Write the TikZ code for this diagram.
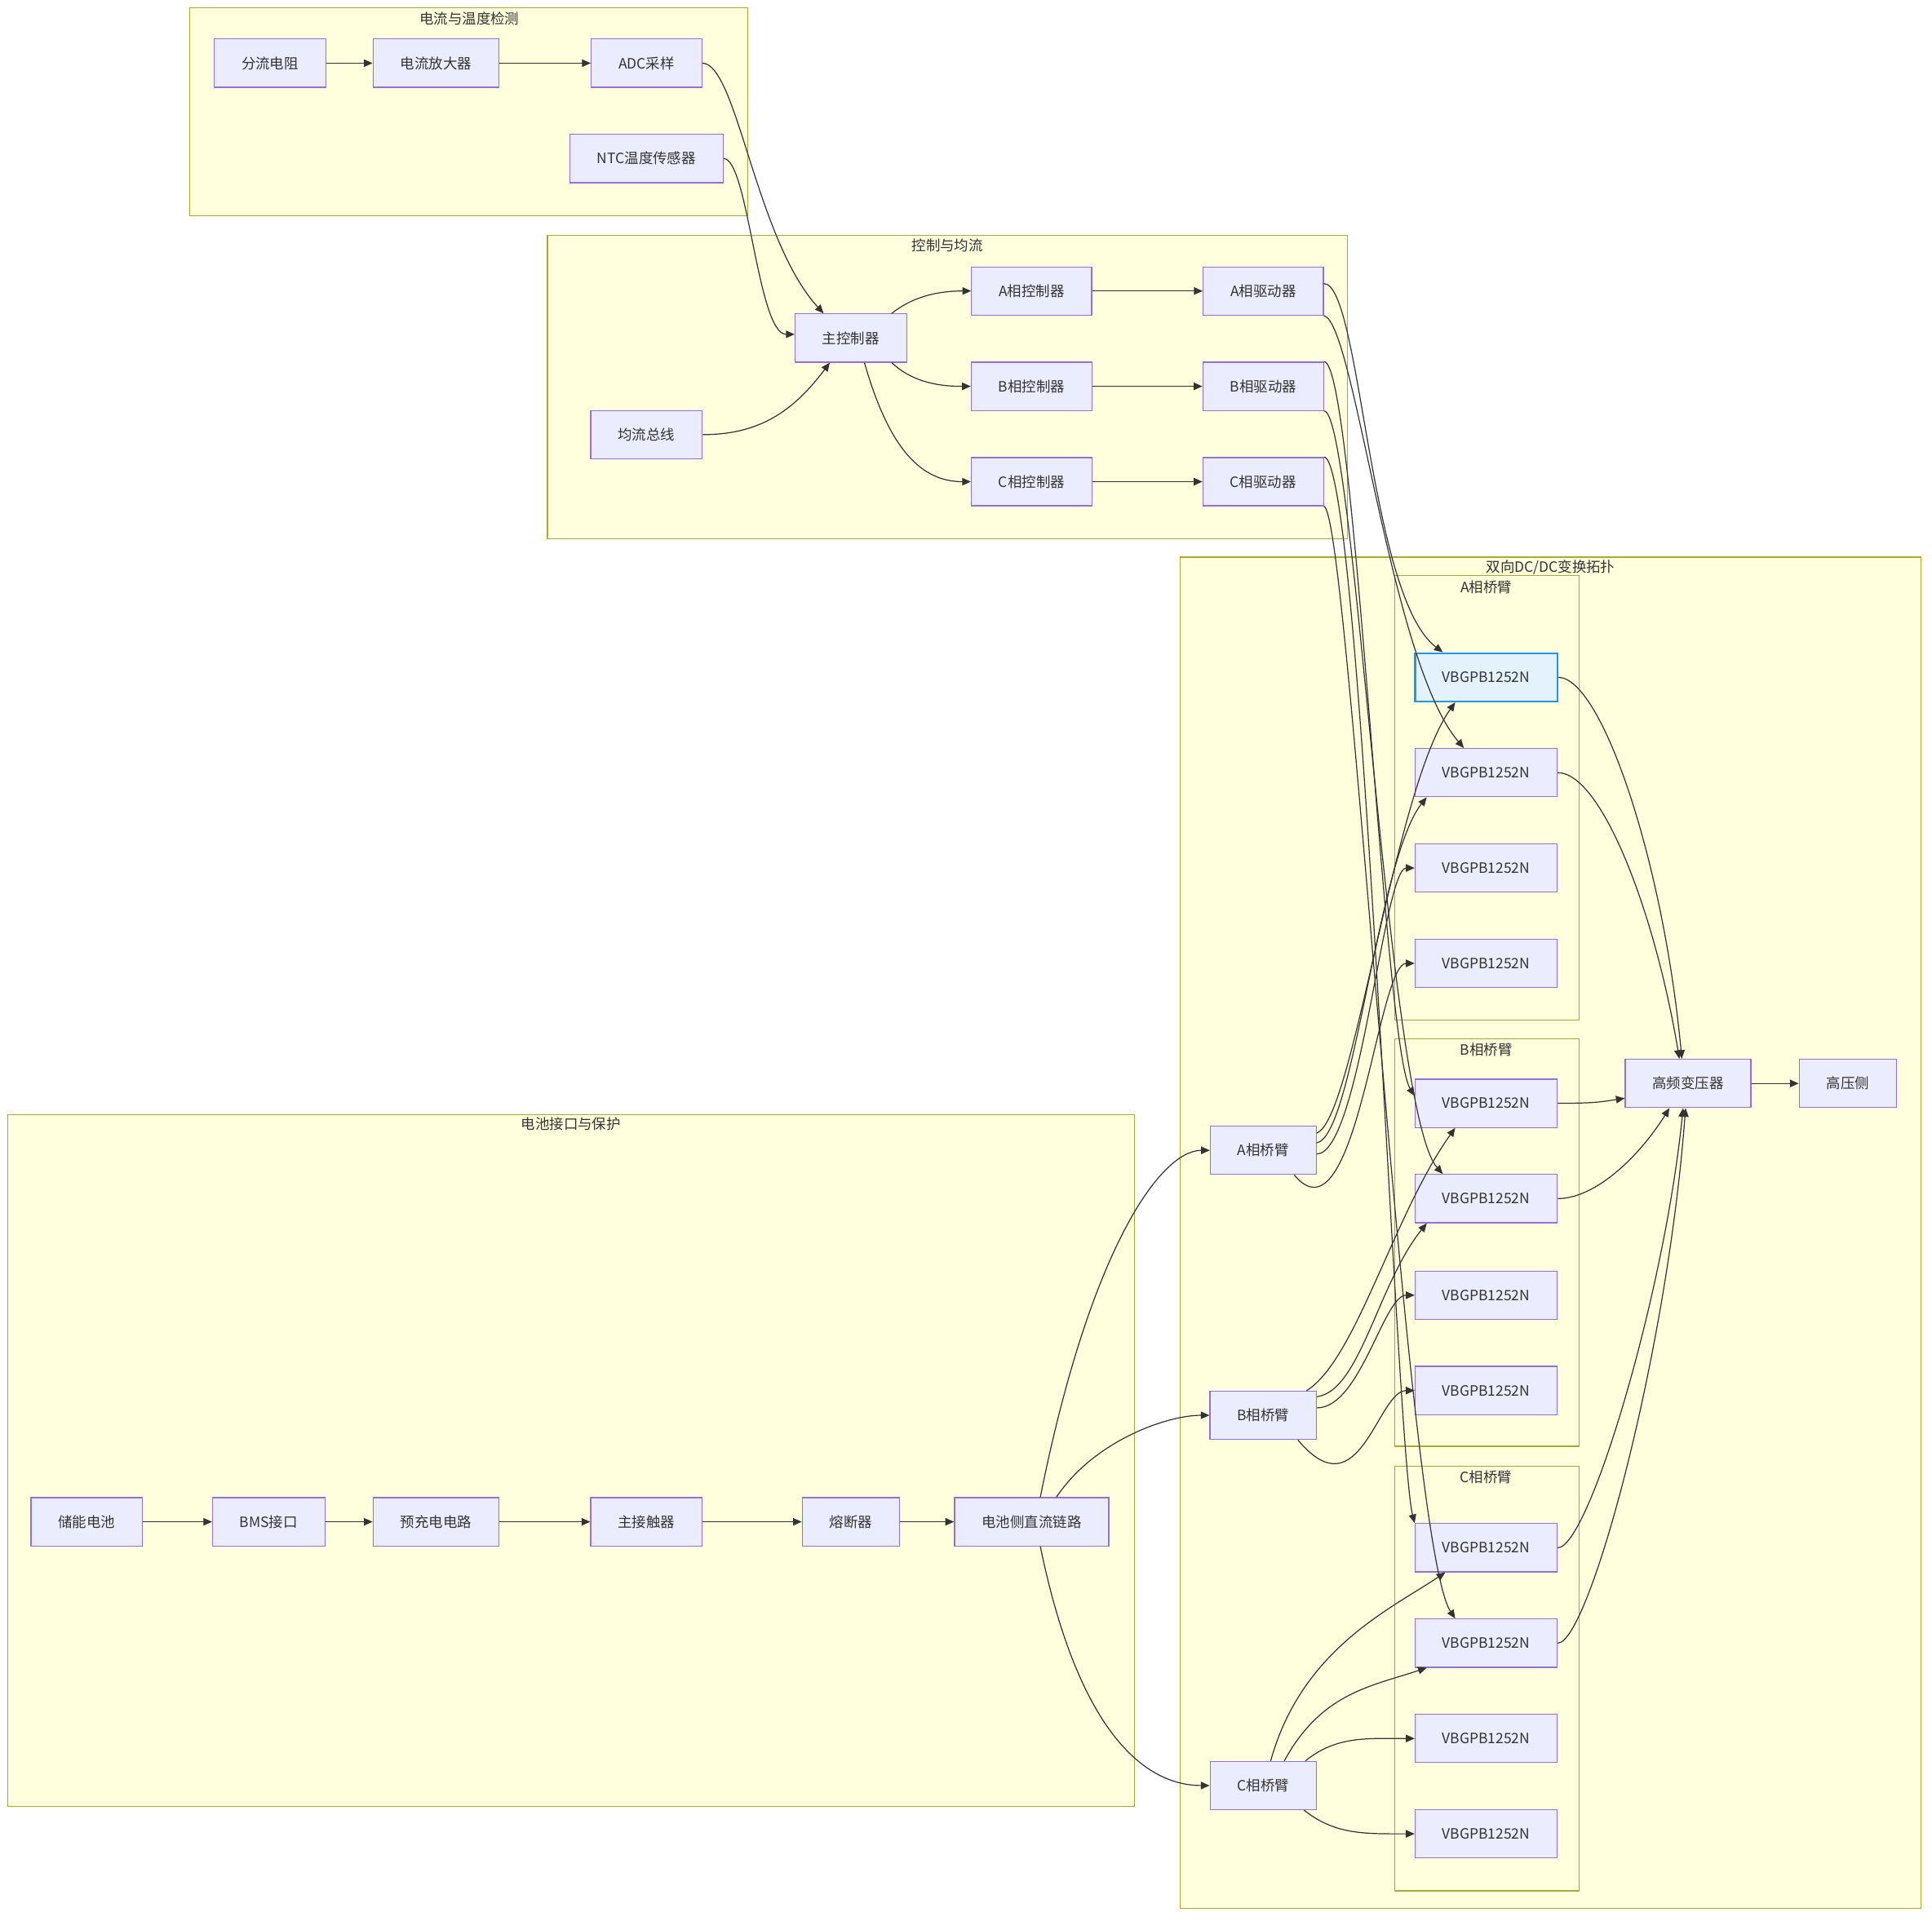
\documentclass[tikz,border=0pt]{standalone}
\usepackage{fontspec}
\setmainfont{Noto Sans CJK SC}
\usetikzlibrary{arrows.meta}
\definecolor{boxfill}{HTML}{ECECFF}
\definecolor{boxline}{HTML}{9370DB}
\definecolor{grpfill}{HTML}{FFFFDE}
\definecolor{grpline}{HTML}{AAAA33}
\definecolor{hotfill}{HTML}{E3F2FD}
\definecolor{hotline}{HTML}{2196F3}
\definecolor{edge}{HTML}{333333}
\definecolor{txt}{HTML}{333333}
\begin{document}
\begin{tikzpicture}[x=1pt,y=-1pt,
	font=\fontsize{11.5}{14}\selectfont, text=txt,
	box/.style={draw=boxline,fill=boxfill,line width=0.8pt,minimum height=39pt,inner xsep=22pt},
	hot/.style={box,draw=hotline,fill=hotfill,line width=1.5pt},
	grp/.style={draw=grpline,fill=grpfill,line width=0.8pt},
	wire/.style={-{Triangle[length=7pt,width=6pt]},draw=edge,line width=0.8pt}]
	\useasboundingbox (0,0) rectangle (1560,1551);
	
	\draw[grp] (153,6) rectangle (604,174);
	\node (tsense) at (379,15) {电流与温度检测};
	\draw[grp] (442,190) rectangle (1088,435);
	\node (tctrl) at (765,198) {控制与均流};
	\draw[grp] (953,450) rectangle (1551,1541);
	\node (ttopo) at (1252,458) {双向DC/DC变换拓扑};
	\draw[grp] (1126,465) rectangle (1275,824);
	\node (tarma) at (1200,474) {A相桥臂};
	\draw[grp] (1126,839) rectangle (1275,1168);
	\node (tarmb) at (1200,848) {B相桥臂};
	\draw[grp] (1126,1184) rectangle (1275,1527);
	\node (tarmc) at (1200,1193) {C相桥臂};
	\draw[grp] (6,900) rectangle (916,1459);
	\node (tbat) at (461,908) {电池接口与保护};
	
	\node[box] (shunt) at (218,51) {分流电阻};
	\node[box] (amp) at (352,51) {电流放大器};
	\node[box] (adc) at (522,51) {ADC采样};
	\node[box] (ntc) at (522,128) {NTC温度传感器};
	
	\node[box] (mcu) at (687,273) {主控制器};
	\node[box] (bus) at (522,351) {均流总线};
	\node[box] (actrl) at (833,235) {A相控制器};
	\node[box] (bctrl) at (833,312) {B相控制器};
	\node[box] (cctrl) at (833,389) {C相控制器};
	\node[box] (adrv) at (1020,235) {A相驱动器};
	\node[box] (bdrv) at (1020,312) {B相驱动器};
	\node[box] (cdrv) at (1020,389) {C相驱动器};
	
	\node[hot] (sa1) at (1200,547) {VBGPB1252N};
	\node[box] (sa2) at (1200,624) {VBGPB1252N};
	\node[box] (sa3) at (1200,701) {VBGPB1252N};
	\node[box] (sa4) at (1200,778) {VBGPB1252N};
	\node[box] (sb1) at (1200,891) {VBGPB1252N};
	\node[box] (sb2) at (1200,968) {VBGPB1252N};
	\node[box] (sb3) at (1200,1046) {VBGPB1252N};
	\node[box] (sb4) at (1200,1123) {VBGPB1252N};
	\node[box] (sc1) at (1200,1250) {VBGPB1252N};
	\node[box] (sc2) at (1200,1327) {VBGPB1252N};
	\node[box] (sc3) at (1200,1404) {VBGPB1252N};
	\node[box] (sc4) at (1200,1481) {VBGPB1252N};
	\node[box] (xfmr) at (1363,875) {高频变压器};
	\node[box] (hv) at (1492,875) {高压侧};
	\node[box] (aarm) at (1020,929) {A相桥臂};
	\node[box] (barm) at (1020,1143) {B相桥臂};
	\node[box] (carm) at (1020,1442) {C相桥臂};
	
	\node[box] (bat) at (70,1229) {储能电池};
	\node[box] (bms) at (217,1229) {BMS接口};
	\node[box] (pre) at (352,1229) {预充电电路};
	\node[box] (kmain) at (522,1229) {主接触器};
	\node[box] (fuse) at (687,1229) {熔断器};
	\node[box] (dclink) at (833,1229) {电池侧直流链路};
	
	\draw[wire] (shunt) -- (amp);
	\draw[wire] (amp) -- (adc);
	\draw[wire] (adc.east) .. controls +(28,0) and +(-55,-60) .. ([xshift=-22pt]mcu.north);
	\draw[wire] (ntc.east) .. controls +(20,0) and +(-30,0) .. ([yshift=3pt]mcu.west);
	\draw[wire] (bus.east) .. controls +(45,0) and +(-30,40) .. ([xshift=-17pt]mcu.south);
	\draw[wire] ([xshift=33pt]mcu.north) .. controls +(15,-12) and +(-30,0) .. (actrl.west);
	\draw[wire] ([xshift=33pt]mcu.south) .. controls +(15,14) and +(-30,0) .. (bctrl.west);
	\draw[wire] ([xshift=11pt]mcu.south) .. controls +(20,70) and +(-40,0) .. (cctrl.west);
	\draw[wire] (actrl) -- (adrv);
	\draw[wire] (bctrl) -- (bdrv);
	\draw[wire] (cctrl) -- (cdrv);
	
	\draw[wire] ([yshift=6pt]adrv.east) .. controls +(30,0) and +(-60,-45) .. ([xshift=-35pt]sa1.north);
	\draw[wire] (adrv.south east) .. controls +(25,5) and +(-60,-70) .. ([xshift=-18pt]sa2.north);
	\draw[wire] (bdrv.north east) .. controls +(25,0) and +(-25,-40) .. ([yshift=6pt]sb1.west);
	\draw[wire] (bdrv.south east) .. controls +(25,0) and +(-45,-50) .. ([xshift=-35pt]sb2.north);
	\draw[wire] (cdrv.north east) .. controls +(30,0) and +(-15,-60) .. (sc1.north west);
	\draw[wire] (cdrv.south east) .. controls +(20,5) and +(-40,-60) .. ([xshift=-25pt]sc2.north);
	
	\draw[wire] ([yshift=14pt]aarm.east) .. controls +(30,-10) and +(-50,70) .. ([xshift=-25pt]sa1.south);
	\draw[wire] ([yshift=6pt]aarm.east) .. controls +(30,-5) and +(-40,50) .. ([xshift=-48pt]sa2.south);
	\draw[wire] ([yshift=-3pt]aarm.east) .. controls +(35,0) and +(-25,0) .. (sa3.west);
	\draw[wire] ([xshift=25pt]aarm.south) .. controls +(50,60) and +(-30,0) .. (sa4.west);
	\draw[wire] ([xshift=35pt]barm.north) .. controls +(40,-25) and +(-50,70) .. ([xshift=-25pt]sb1.south);
	\draw[wire] ([yshift=15pt]barm.east) .. controls +(35,-5) and +(-40,50) .. ([xshift=-48pt]sb2.south);
	\draw[wire] ([yshift=6pt]barm.east) .. controls +(35,0) and +(-25,0) .. (sb3.west);
	\draw[wire] ([xshift=28pt]barm.south) .. controls +(50,60) and +(-30,0) .. (sb4.west);
	\draw[wire] ([xshift=6pt]carm.north) .. controls +(25,-90) and +(-45,30) .. ([xshift=-33pt]sc1.south);
	\draw[wire] ([xshift=17pt]carm.north) .. controls +(30,-55) and +(-45,15) .. ([xshift=-48pt]sc2.south);
	\draw[wire] ([xshift=34pt]carm.north) .. controls +(25,-20) and +(-40,0) .. (sc3.west);
	\draw[wire] ([xshift=33pt]carm.south) .. controls +(25,20) and +(-40,0) .. (sc4.west);
	
	\draw[wire] (sa1.east) .. controls +(35,0) and +(-15,-160) .. ([xshift=-5pt]xfmr.north);
	\draw[wire] (sa2.east) .. controls +(35,0) and +(-20,-120) .. ([xshift=-7pt]xfmr.north);
	\draw[wire] (sb1.east) .. controls +(30,0) and +(-20,3) .. ([yshift=-12pt]xfmr.west);
	\draw[wire] (sb2.east) .. controls +(30,0) and +(-25,40) .. ([xshift=-15pt]xfmr.south);
	\draw[wire] (sc1.east) .. controls +(25,0) and +(-15,150) .. ([xshift=-4pt]xfmr.south);
	\draw[wire] (sc2.east) .. controls +(25,0) and +(-15,200) .. ([xshift=-2pt]xfmr.south);
	\draw[wire] (xfmr) -- (hv);
	
	\draw[wire] (bat) -- (bms);
	\draw[wire] (bms) -- (pre);
	\draw[wire] (pre) -- (kmain);
	\draw[wire] (kmain) -- (fuse);
	\draw[wire] (fuse) -- (dclink);
	\draw[wire] ([xshift=7pt]dclink.north) .. controls +(40,-200) and +(-40,0) .. (aarm.west);
	\draw[wire] ([xshift=20pt]dclink.north) .. controls +(30,-45) and +(-35,0) .. (barm.west);
	\draw[wire] ([xshift=7pt]dclink.south) .. controls +(35,170) and +(-40,0) .. (carm.west);
\end{tikzpicture}
\end{document}
